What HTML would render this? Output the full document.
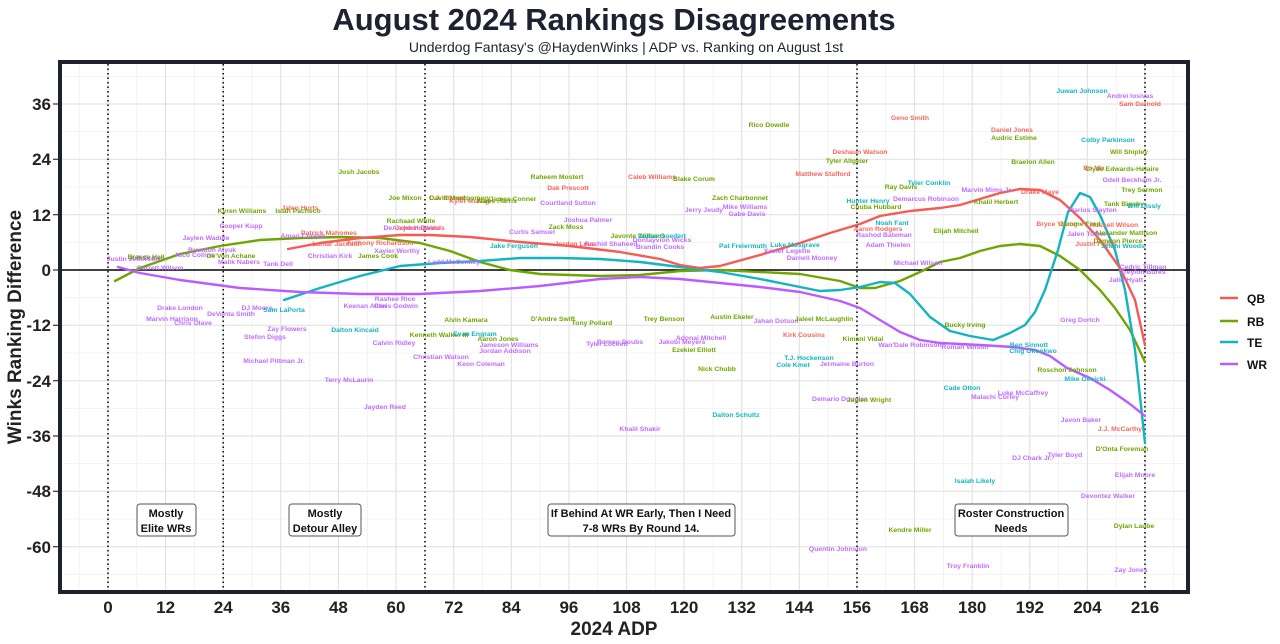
<!DOCTYPE html>
<html><head><meta charset="utf-8"><style>
html,body{margin:0;padding:0;background:#fff;}
svg{display:block;font-family:"Liberation Sans",sans-serif;}
.l text{font-size:6.8px;font-weight:bold;text-anchor:middle;}
.qb text{fill:#F5655C}.rb text{fill:#6FA500}.te text{fill:#12B5BF}.wr text{fill:#BF6BFF}
.tk{font-size:17px;font-weight:bold;fill:#222;}
</style></head><body>
<svg width="1280" height="644" viewBox="0 0 1280 644" xmlns="http://www.w3.org/2000/svg">
<rect width="1280" height="644" fill="#fff"/>
<text x="614" y="30" font-size="31" font-weight="bold" text-anchor="middle" fill="#1e2230">August 2024 Rankings Disagreements</text>
<text x="626" y="52" font-size="14" text-anchor="middle" fill="#1e2230">Underdog Fantasy's @HaydenWinks | ADP vs. Ranking on August 1st</text>
<g stroke="#f0f0f0" stroke-width="0.8">
<line x1="60" x2="1188" y1="76.3" y2="76.3"/><line x1="60" x2="1188" y1="131.7" y2="131.7"/><line x1="60" x2="1188" y1="187" y2="187"/><line x1="60" x2="1188" y1="242.3" y2="242.3"/><line x1="60" x2="1188" y1="297.7" y2="297.7"/><line x1="60" x2="1188" y1="353" y2="353"/><line x1="60" x2="1188" y1="408.3" y2="408.3"/><line x1="60" x2="1188" y1="463.7" y2="463.7"/><line x1="60" x2="1188" y1="519" y2="519"/><line x1="60" x2="1188" y1="574.3" y2="574.3"/>
<line y1="62" y2="592" x1="79.2" x2="79.2"/><line y1="62" y2="592" x1="136.8" x2="136.8"/><line y1="62" y2="592" x1="194.4" x2="194.4"/><line y1="62" y2="592" x1="252" x2="252"/><line y1="62" y2="592" x1="309.7" x2="309.7"/><line y1="62" y2="592" x1="367.3" x2="367.3"/><line y1="62" y2="592" x1="424.9" x2="424.9"/><line y1="62" y2="592" x1="482.5" x2="482.5"/><line y1="62" y2="592" x1="540.1" x2="540.1"/><line y1="62" y2="592" x1="597.7" x2="597.7"/><line y1="62" y2="592" x1="655.3" x2="655.3"/><line y1="62" y2="592" x1="712.9" x2="712.9"/><line y1="62" y2="592" x1="770.5" x2="770.5"/><line y1="62" y2="592" x1="828.1" x2="828.1"/><line y1="62" y2="592" x1="885.7" x2="885.7"/><line y1="62" y2="592" x1="943.4" x2="943.4"/><line y1="62" y2="592" x1="1001" x2="1001"/><line y1="62" y2="592" x1="1058.6" x2="1058.6"/><line y1="62" y2="592" x1="1116.2" x2="1116.2"/><line y1="62" y2="592" x1="1173.8" x2="1173.8"/>
</g>
<g stroke="#e3e3e3" stroke-width="1.2">
<line x1="60" x2="1188" y1="104" y2="104"/><line x1="60" x2="1188" y1="159.3" y2="159.3"/><line x1="60" x2="1188" y1="214.7" y2="214.7"/><line x1="60" x2="1188" y1="325.3" y2="325.3"/><line x1="60" x2="1188" y1="380.7" y2="380.7"/><line x1="60" x2="1188" y1="436" y2="436"/><line x1="60" x2="1188" y1="491.3" y2="491.3"/><line x1="60" x2="1188" y1="546.7" y2="546.7"/>
<line y1="62" y2="592" x1="108" x2="108"/><line y1="62" y2="592" x1="165.6" x2="165.6"/><line y1="62" y2="592" x1="223.2" x2="223.2"/><line y1="62" y2="592" x1="280.8" x2="280.8"/><line y1="62" y2="592" x1="338.4" x2="338.4"/><line y1="62" y2="592" x1="396" x2="396"/><line y1="62" y2="592" x1="453.7" x2="453.7"/><line y1="62" y2="592" x1="511.3" x2="511.3"/><line y1="62" y2="592" x1="568.9" x2="568.9"/><line y1="62" y2="592" x1="626.5" x2="626.5"/><line y1="62" y2="592" x1="684.1" x2="684.1"/><line y1="62" y2="592" x1="741.7" x2="741.7"/><line y1="62" y2="592" x1="799.3" x2="799.3"/><line y1="62" y2="592" x1="856.9" x2="856.9"/><line y1="62" y2="592" x1="914.5" x2="914.5"/><line y1="62" y2="592" x1="972.2" x2="972.2"/><line y1="62" y2="592" x1="1029.8" x2="1029.8"/><line y1="62" y2="592" x1="1087.4" x2="1087.4"/><line y1="62" y2="592" x1="1145" x2="1145"/>
</g>
<g stroke="#111" stroke-width="1.6" stroke-dasharray="1.5,3">
<line x1="108" x2="108" y1="64" y2="590"/><line x1="223.2" x2="223.2" y1="64" y2="590"/><line x1="425" x2="425" y1="64" y2="590"/><line x1="857" x2="857" y1="64" y2="590"/><line x1="1145" x2="1145" y1="64" y2="590"/>
</g>
<line x1="60" x2="1188" y1="270" y2="270" stroke="#000" stroke-width="1.6"/>
<g fill="none" stroke-width="2.4" stroke-linejoin="round" stroke-linecap="round">
<polyline stroke="#6FA500" points="115,281 140,268 180,254 220,246 260,240 300,238 340,237 380,238 420,243 450,251 480,262 510,270 540,274 600,276 640,275 680,271 720,270 760,272 800,274 840,281 860,288 875,288 900,281 920,272 940,262 960,258 980,251 1000,246 1020,244 1040,246 1060,256 1080,270 1100,290 1115,308 1130,330 1145,362"/>
<polyline stroke="#12B5BF" points="284,300 320,288 360,276 400,266 440,263 480,261 520,258 560,258 600,259 640,262 680,267 720,272 760,279 800,287 820,291 840,290 860,287 880,282 895,283 910,294 930,317 950,331 970,336 993,340 1010,333 1025,325 1035,312 1045,290 1058,250 1068,212 1080,193 1090,197 1100,215 1115,250 1125,290 1135,350 1145,443"/>
<polyline stroke="#BA5CFF" points="118,267 140,273 180,280 240,288 300,292 360,294 420,294 480,291 540,286 600,279 640,277 680,279 720,283 760,287 800,292 840,301 860,308 880,320 900,332 920,340 940,343 980,345 1013,347 1035,350 1050,356 1067,368 1090,378 1110,390 1130,404 1145,416"/>
<polyline stroke="#F75A55" points="288,249 320,243 360,238 400,235 430,235 470,237 520,242 570,246 620,252 660,259 680,265 700,268 720,266 760,255 800,243 830,233 860,224 880,216 910,211 940,208 960,205 980,199 1000,193 1020,189 1040,190 1060,200 1080,218 1100,240 1120,268 1135,300 1145,345"/>
</g>
<g class="l wr">
<text x="133" y="261">Justin Jefferson</text><text x="160" y="270">Garrett Wilson</text><text x="147" y="260">A.J. Brown</text><text x="206" y="240">Jaylen Waddle</text><text x="195" y="257">Nico Collins</text><text x="212" y="252">Brandon Aiyuk</text><text x="241" y="228">Cooper Kupp</text><text x="239" y="264">Malik Nabers</text><text x="278" y="266">Tank Dell</text><text x="303" y="238">Amari Cooper</text><text x="330" y="258">Christian Kirk</text><text x="180" y="310">Drake London</text><text x="172" y="321">Marvin Harrison</text><text x="193" y="325">Chris Olave</text><text x="231" y="316">DeVonta Smith</text><text x="257" y="310">DJ Moore</text><text x="287" y="331">Zay Flowers</text><text x="265" y="339">Stefon Diggs</text><text x="274" y="363">Michael Pittman Jr.</text><text x="349" y="382">Terry McLaurin</text><text x="385" y="409">Jayden Reed</text><text x="395" y="301">Rashee Rice</text><text x="365" y="308">Keenan Allen</text><text x="396" y="308">Chris Godwin</text><text x="394" y="345">Calvin Ridley</text><text x="441" y="359">Christian Watson</text><text x="481" y="366">Keon Coleman</text><text x="509" y="347">Jameson Williams</text><text x="505" y="353">Jordan Addison</text><text x="412" y="230">DeAndre Hopkins</text><text x="397" y="253">Xavier Worthy</text><text x="454" y="264">Ladd McConkey</text><text x="568" y="205">Courtland Sutton</text><text x="532" y="234">Curtis Samuel</text><text x="588" y="222">Joshua Palmer</text><text x="611" y="246">Rashid Shaheed</text><text x="662" y="242">Dontayvion Wicks</text><text x="660" y="249">Brandin Cooks</text><text x="607" y="346">Tyler Lockett</text><text x="620" y="344">Romeo Doubs</text><text x="682" y="344">Jakobi Meyers</text><text x="701" y="340">Adonai Mitchell</text><text x="704" y="212">Jerry Jeudy</text><text x="745" y="209">Mike Williams</text><text x="747" y="216">Gabe Davis</text><text x="787" y="253">Xavier Legette</text><text x="812" y="260">Darnell Mooney</text><text x="776" y="323">Jahan Dotson</text><text x="847" y="366">Jermaine Burton</text><text x="840" y="401">Demario Douglas</text><text x="838" y="551">Quentin Johnston</text><text x="926" y="201">Demarcus Robinson</text><text x="884" y="237">Rashod Bateman</text><text x="888" y="247">Adam Thielen</text><text x="918" y="265">Michael Wilson</text><text x="910" y="347">Wan'Dale Robinson</text><text x="965" y="349">Roman Wilson</text><text x="987" y="192">Marvin Mims Jr.</text><text x="995" y="399">Malachi Corley</text><text x="1023" y="395">Luke McCaffrey</text><text x="1032" y="460">DJ Chark Jr.</text><text x="1065" y="457">Tyler Boyd</text><text x="968" y="568">Troy Franklin</text><text x="1093" y="212">Darius Slayton</text><text x="1088" y="236">Jalen Tolbert</text><text x="1126" y="282">Jalin Hyatt</text><text x="1143" y="269">Cedric Tillman</text><text x="1143" y="274">Treylon Burks</text><text x="1080" y="322">Greg Dortch</text><text x="1081" y="422">Javon Baker</text><text x="1135" y="477">Elijah Moore</text><text x="1108" y="498">Devontez Walker</text><text x="1131" y="572">Zay Jones</text><text x="1130" y="98">Andrei Iosivas</text><text x="1132" y="182">Odell Beckham Jr.</text><text x="640" y="431">Khalil Shakir</text>
</g>
<g class="l qb">
<text x="300" y="210">Jalen Hurts</text><text x="329" y="235">Patrick Mahomes</text><text x="337" y="246">Lamar Jackson</text><text x="380" y="245">Anthony Richardson</text><text x="420" y="230">Jayden Daniels</text><text x="447" y="200">C.J. Stroud</text><text x="470" y="203">Kyler Murray</text><text x="568" y="190">Dak Prescott</text><text x="652" y="179">Caleb Williams</text><text x="575" y="246">Jordan Love</text><text x="823" y="176">Matthew Stafford</text><text x="860" y="154">Deshaun Watson</text><text x="910" y="120">Geno Smith</text><text x="878" y="231">Aaron Rodgers</text><text x="804" y="337">Kirk Cousins</text><text x="1012" y="132">Daniel Jones</text><text x="1040" y="194">Drake Maye</text><text x="1057" y="226">Bryce Young</text><text x="1114" y="227">Russell Wilson</text><text x="1096" y="246">Justin Fields</text><text x="1094" y="170">Bo Nix</text><text x="1140" y="106">Sam Darnold</text><text x="1120" y="431">J.J. McCarthy</text>
</g>
<g class="l rb">
<text x="146" y="259">Breece Hall</text><text x="231" y="258">De'Von Achane</text><text x="242" y="213">Kyren Williams</text><text x="298" y="213">Isiah Pacheco</text><text x="359" y="174">Josh Jacobs</text><text x="378" y="258">James Cook</text><text x="405" y="200">Joe Mixon</text><text x="411" y="223">Rachaad White</text><text x="460" y="200">David Montgomery</text><text x="513" y="201">James Conner</text><text x="497" y="203">Najee Harris</text><text x="557" y="179">Raheem Mostert</text><text x="566" y="229">Zack Moss</text><text x="638" y="238">Javonte Williams</text><text x="694" y="181">Blake Corum</text><text x="466" y="322">Alvin Kamara</text><text x="439" y="337">Kenneth Walker III</text><text x="498" y="341">Aaron Jones</text><text x="553" y="321">D'Andre Swift</text><text x="592" y="325">Tony Pollard</text><text x="664" y="321">Trey Benson</text><text x="694" y="352">Ezekiel Elliott</text><text x="717" y="371">Nick Chubb</text><text x="732" y="319">Austin Ekeler</text><text x="740" y="200">Zach Charbonnet</text><text x="769" y="127">Rico Dowdle</text><text x="847" y="163">Tyler Allgeier</text><text x="824" y="321">Jaleel McLaughlin</text><text x="863" y="341">Kimani Vidal</text><text x="869" y="402">Jaylen Wright</text><text x="876" y="209">Chuba Hubbard</text><text x="901" y="189">Ray Davis</text><text x="956" y="233">Elijah Mitchell</text><text x="996" y="204">Khalil Herbert</text><text x="1014" y="140">Audric Estime</text><text x="1033" y="164">Braelon Allen</text><text x="965" y="327">Bucky Irving</text><text x="910" y="532">Kendre Miller</text><text x="1080" y="226">Jerome Ford</text><text x="1129" y="154">Will Shipley</text><text x="1122" y="171">Clyde Edwards-Helaire</text><text x="1142" y="192">Trey Sermon</text><text x="1124" y="206">Tank Bigsby</text><text x="1126" y="235">Alexander Mattison</text><text x="1118" y="243">Dameon Pierce</text><text x="1067" y="372">Roschon Johnson</text><text x="1122" y="451">D'Onta Foreman</text><text x="1134" y="528">Dylan Laube</text>
</g>
<g class="l te">
<text x="284" y="312">Sam LaPorta</text><text x="355" y="332">Dalton Kincaid</text><text x="475" y="336">Evan Engram</text><text x="514" y="248">Jake Ferguson</text><text x="662" y="238">Dallas Goedert</text><text x="736" y="417">Dalton Schultz</text><text x="743" y="248">Pat Freiermuth</text><text x="795" y="247">Luke Musgrave</text><text x="793" y="367">Cole Kmet</text><text x="809" y="360">T.J. Hockenson</text><text x="868" y="203">Hunter Henry</text><text x="892" y="225">Noah Fant</text><text x="929" y="185">Tyler Conklin</text><text x="962" y="390">Cade Otton</text><text x="975" y="483">Isaiah Likely</text><text x="1029" y="347">Ben Sinnott</text><text x="1033" y="353">Chig Okonkwo</text><text x="1085" y="381">Mike Gesicki</text><text x="1082" y="93">Juwan Johnson</text><text x="1108" y="142">Colby Parkinson</text><text x="1144" y="208">Will Dissly</text><text x="1123" y="248">Jelani Woods</text>
</g>
<g font-size="11" font-weight="bold" text-anchor="middle" fill="#111">
<rect x="137" y="504" width="59" height="32" rx="3" fill="#fff" stroke="#555"/>
<text x="166" y="517">Mostly</text><text x="166" y="532">Elite WRs</text>
<rect x="289" y="504" width="72" height="32" rx="3" fill="#fff" stroke="#555"/>
<text x="325" y="517">Mostly</text><text x="325" y="532">Detour Alley</text>
<rect x="548" y="504" width="187" height="32" rx="3" fill="#fff" stroke="#555"/>
<text x="641" y="517">If Behind At WR Early, Then I Need</text><text x="641" y="532">7-8 WRs By Round 14.</text>
<rect x="955" y="504" width="113" height="32" rx="3" fill="#fff" stroke="#555"/>
<text x="1011" y="517">Roster Construction</text><text x="1011" y="532">Needs</text>
</g>
<rect x="60" y="62" width="1128" height="530" fill="none" stroke="#1e2230" stroke-width="4"/>
<g stroke="#333" stroke-width="1.2">
<line x1="53" x2="58" y1="104" y2="104"/><line x1="53" x2="58" y1="159.3" y2="159.3"/><line x1="53" x2="58" y1="214.7" y2="214.7"/><line x1="53" x2="58" y1="270" y2="270"/><line x1="53" x2="58" y1="325.3" y2="325.3"/><line x1="53" x2="58" y1="380.7" y2="380.7"/><line x1="53" x2="58" y1="436" y2="436"/><line x1="53" x2="58" y1="491.3" y2="491.3"/><line x1="53" x2="58" y1="546.7" y2="546.7"/>
</g>
<g class="tk" text-anchor="end">
<text x="51" y="110">36</text><text x="51" y="165">24</text><text x="51" y="221">12</text><text x="51" y="276">0</text><text x="51" y="331">-12</text><text x="51" y="387">-24</text><text x="51" y="442">-36</text><text x="51" y="497">-48</text><text x="51" y="553">-60</text>
</g>
<g class="tk" text-anchor="middle">
<text x="108" y="613">0</text><text x="165.6" y="613">12</text><text x="223.2" y="613">24</text><text x="280.8" y="613">36</text><text x="338.4" y="613">48</text><text x="396" y="613">60</text><text x="453.7" y="613">72</text><text x="511.3" y="613">84</text><text x="568.9" y="613">96</text><text x="626.5" y="613">108</text><text x="684.1" y="613">120</text><text x="741.7" y="613">132</text><text x="799.3" y="613">144</text><text x="856.9" y="613">156</text><text x="914.5" y="613">168</text><text x="972.2" y="613">180</text><text x="1029.8" y="613">192</text><text x="1087.4" y="613">204</text><text x="1145" y="613">216</text>
</g>
<text x="614" y="635" font-size="19" font-weight="bold" text-anchor="middle" fill="#222">2024 ADP</text>
<text transform="translate(21,327) rotate(-90)" font-size="19" font-weight="bold" text-anchor="middle" fill="#222">Winks Ranking Difference</text>
<g stroke-width="2.4">
<line x1="1220" x2="1238" y1="298" y2="298" stroke="#F75A55"/><line x1="1220" x2="1238" y1="321" y2="321" stroke="#6FA500"/><line x1="1220" x2="1238" y1="342" y2="342" stroke="#12B5BF"/><line x1="1220" x2="1238" y1="364" y2="364" stroke="#BA5CFF"/>
</g>
<g font-size="12" font-weight="bold" fill="#111">
<text x="1247" y="303">QB</text><text x="1247" y="326">RB</text><text x="1247" y="347">TE</text><text x="1247" y="369">WR</text>
</g>
</svg>
</body></html>
